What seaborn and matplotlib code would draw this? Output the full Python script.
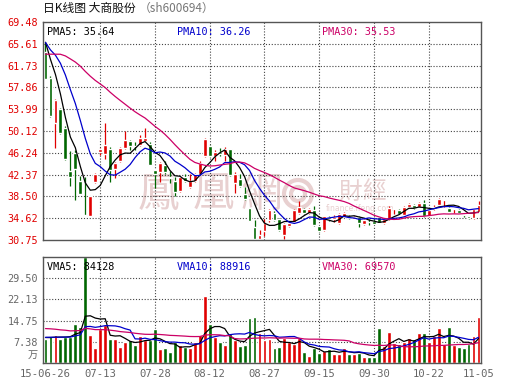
import numpy as np
import pandas as pd
import matplotlib
matplotlib.use("Agg")
import matplotlib.pyplot as plt
from matplotlib.patches import Ellipse
import seaborn as sns

# datos (precio en yuan, volumen en 万)
holidays = ["2015-09-03", "2015-09-04", "2015-10-01", "2015-10-02",
            "2015-10-05", "2015-10-06", "2015-10-07"]
tick_dates = ["2015-06-26", "2015-07-13", "2015-07-28", "2015-08-12", "2015-08-27",
              "2015-09-15", "2015-09-30", "2015-10-22", "2015-11-05"]

opens = [64.2, 59.6, 51.6, 54.0, 50.7, 43.0, 46.2, 41.3, 35.15, 35.1,
         41.0, 46.3, 45.95, 47.0, 43.3, 44.8, 47.1, 48.4, 47.5, 47.7,
         48.4, 47.8, 43.1, 42.8, 44.0, 42.0, 41.3, 39.4, 41.9, 40.1,
         41.2, 42.5, 45.6, 47.4, 45.7, 46.4, 45.9, 46.9, 40.8, 41.6,
         39.0, 36.4, 33.0, 31.0, 32.3, 34.3, 35.6, 34.5, 31.7, 33.3,
         34.0, 35.5, 36.2, 35.5, 36.1, 33.2, 32.5, 34.9, 34.4, 33.8,
         34.9, 35.0, 34.5, 34.9, 33.6, 34.0, 34.2, 34.8, 33.7, 34.4,
         36.2, 36.1, 35.2, 36.7, 37.0, 36.7, 37.3, 35.0, 36.2, 37.0,
         37.9, 36.5, 36.2, 36.1, 35.25, 35.0, 34.6, 35.8]
highs = [66.0, 59.8, 55.8, 54.2, 51.0, 46.6, 46.8, 42.1, 42.0, 38.6,
         42.6, 47.1, 51.6, 47.2, 44.6, 47.2, 50.2, 48.6, 48.1, 49.4,
         50.7, 48.2, 43.2, 44.6, 44.7, 43.0, 42.0, 42.1, 42.4, 42.5,
         42.6, 44.8, 48.8, 47.7, 46.8, 47.1, 47.3, 47.0, 42.9, 42.5,
         40.1, 36.5, 34.3, 32.6, 34.5, 36.2, 35.9, 34.7, 33.7, 34.2,
         36.2, 37.6, 36.4, 36.5, 36.8, 33.3, 35.1, 35.1, 35.2, 35.6,
         35.8, 35.2, 35.1, 35.0, 34.4, 34.4, 34.4, 34.9, 34.5, 36.8,
         36.2, 36.3, 36.8, 37.3, 37.2, 37.5, 37.8, 36.1, 36.9, 38.2,
         37.9, 36.6, 36.2, 36.2, 35.4, 35.1, 36.3, 37.6]
lows = [59.3, 52.6, 47.1, 49.6, 45.0, 40.4, 37.8, 38.9, 35.1, 35.1,
        40.9, 45.8, 45.1, 41.0, 41.8, 44.6, 46.9, 46.7, 46.7, 47.5,
        48.3, 44.0, 40.0, 41.0, 42.5, 40.9, 38.5, 39.3, 41.1, 40.0,
        41.1, 42.4, 45.5, 45.5, 44.8, 45.6, 44.8, 42.2, 39.1, 40.1,
        37.9, 34.2, 30.8, 30.75, 31.4, 34.0, 34.2, 32.4, 30.9, 33.0,
        33.9, 35.4, 35.3, 35.4, 33.2, 32.2, 32.4, 34.2, 34.0, 33.6,
        34.8, 34.4, 34.4, 33.1, 33.5, 33.5, 33.6, 33.8, 33.6, 34.3,
        35.4, 35.3, 35.1, 36.6, 36.3, 36.6, 34.9, 34.9, 36.0, 36.9,
        36.6, 35.7, 35.6, 35.5, 34.9, 34.5, 34.5, 35.7]
closes = [59.4, 52.8, 55.6, 49.7, 45.1, 42.0, 43.3, 39.0, 35.1, 38.6,
          42.5, 47.0, 47.6, 43.2, 44.5, 47.1, 48.6, 47.4, 47.4, 48.9,
          48.9, 44.1, 42.4, 44.5, 42.9, 41.7, 39.3, 42.0, 41.3, 41.2,
          42.4, 44.4, 48.7, 45.7, 46.3, 46.0, 47.0, 42.3, 42.5, 40.3,
          38.0, 34.2, 31.0, 31.7, 33.8, 36.0, 34.3, 32.5, 33.6, 33.8,
          36.0, 36.6, 35.5, 36.2, 33.4, 32.3, 35.0, 34.4, 34.9, 35.3,
          35.6, 34.6, 34.9, 33.8, 34.3, 33.9, 33.6, 33.8, 34.4, 36.4,
          36.2, 35.4, 36.7, 37.2, 36.4, 37.3, 35.0, 36.0, 36.7, 38.1,
          37.9, 35.8, 36.2, 35.6, 35.2, 34.6, 36.2, 37.0]
volumes = [8.3, 9.4, 9.8, 8.5, 9.1, 9.1, 13.7, 12.6, 36.88, 9.9,
           5.1, 12.0, 13.1, 8.2, 8.5, 5.6, 7.4, 8.0, 6.2, 9.4,
           8.0, 8.0, 12.0, 4.7, 5.1, 3.9, 7.4, 6.2, 5.6, 5.1,
           7.4, 9.9, 23.3, 13.7, 9.1, 7.4, 6.4, 10.5, 8.0, 5.9,
           6.4, 15.8, 16.0, 10.3, 7.9, 8.5, 5.3, 5.6, 8.8, 7.4,
           6.6, 8.8, 3.9, 2.5, 5.1, 3.6, 4.1, 4.7, 3.0, 3.3,
           5.3, 3.3, 3.0, 3.6, 2.0, 2.0, 2.2, 12.2, 5.9, 10.8,
           6.8, 6.6, 7.4, 8.8, 8.5, 10.5, 10.5, 7.4, 9.3, 12.2,
           6.6, 12.6, 6.2, 5.6, 5.1, 6.6, 9.3, 16.0]

# 29 dias anteriores, solo para arrancar las medias moviles
prior_closes = [53.0, 55.6, 50.0, 54.0, 58.0, 60.0, 61.0, 63.0, 64.0, 65.0,
                66.0, 67.0, 68.0, 67.0, 68.0, 69.0, 68.0, 67.0, 66.0, 65.0,
                66.0, 65.0, 64.0, 66.0, 68.0, 68.0, 69.0, 67.0, 66.0]
prior_volumes = [12, 14, 15, 13, 16, 12, 11, 14, 15, 13,
                 12, 14, 13, 15, 14, 12, 13, 14, 15, 13,
                 9, 10, 8, 9, 9, 9.5, 9, 8.5, 9.0]

price_ticks = [30.75, 34.62, 38.50, 42.37, 46.24, 50.12, 53.99, 57.86, 61.73, 65.61, 69.48]
vol_ticks = [7.38, 14.75, 22.13, 29.50]
vol_max = 36.88

sns.set_style("white")
plt.rcParams['font.family'] = ['DejaVu Sans Mono', 'Noto Sans CJK SC']

RED = '#e00000'
GREEN = '#006600'
BLUE = '#0000cc'
PINK = '#cc0066'
GRID = '#444444'
WM = '#e8d0d0'
dots = (0, (1, 1.6))

days = pd.bdate_range('2015-06-26', '2015-11-05')
days = days[~days.isin(pd.to_datetime(holidays))]
x = np.arange(len(days))
n = len(closes)

o = np.array(opens)
c = np.array(closes)
colors = [RED if cc >= oo else GREEN for oo, cc in zip(o, c)]

def ma(prior, vals, w):
    s = pd.Series(list(prior) + list(vals)).rolling(w).mean()
    return s.iloc[-n:].to_numpy()

pma = {w: ma(prior_closes, closes, w) for w in (5, 10, 30)}
vma = {w: ma(prior_volumes, volumes, w) for w in (5, 10, 30)}
line_colors = {5: 'black', 10: BLUE, 30: PINK}

W, H = 530, 391
fig = plt.figure(figsize=(W / 100, H / 100), dpi=100)
ax = fig.add_axes([43 / W, 1 - 240 / H, 438 / W, 218 / H])
axv = fig.add_axes([43 / W, 1 - 363 / H, 438 / W, 106 / H])

tick_idx = [days.get_loc(pd.Timestamp(d)) for d in tick_dates]
tick_lab = [pd.Timestamp(d).strftime('%m-%d') for d in tick_dates]
tick_lab[0] = pd.Timestamp(tick_dates[0]).strftime('%y-%m-%d')

for a in (ax, axv):
    a.set_xlim(-0.5, n - 0.5)
    for s in a.spines.values():
        s.set_color('#555555')
        s.set_linewidth(1.0)
        s.set_zorder(5)
    for i in tick_idx[1:-1]:
        a.axvline(i, color=GRID, lw=0.8, ls=dots, zorder=0.5)
    a.tick_params(length=0, labelsize=7.3)

# marca de agua
def px(xp, yp):
    return xp / W, 1 - yp / H

for ch, xp in zip("鳳凰網", (158, 213, 261)):
    ax.text(*px(xp, 195), ch, transform=fig.transFigure, fontsize=30, color=WM,
            ha='center', va='center', family=['Noto Sans CJK TC'], zorder=0)
for ch, xp in zip("財經", (350, 374)):
    ax.text(*px(xp, 192), ch, transform=fig.transFigure, fontsize=17, color=WM,
            ha='center', va='center', family=['Noto Sans CJK TC'], zorder=0)
for d in (28, 14):
    ax.add_artist(Ellipse(px(298, 194), d / W, d / H, transform=fig.transFigure,
                          fill=False, ec=WM, lw=3, zorder=0))
ax.text(*px(360, 208), "finance.ifeng.com", transform=fig.transFigure, fontsize=5.5,
        color=WM, ha='center', va='center', family=['DejaVu Sans'], zorder=0)

# velas
for v in price_ticks[1:-1]:
    ax.axhline(v, color=GRID, lw=0.8, ls=dots, zorder=0.5)
ax.vlines(x, lows, highs, colors=colors, lw=0.9, zorder=2)
ax.bar(x, np.maximum(np.abs(c - o), 0.12), bottom=np.minimum(o, c), width=0.78,
       color=colors, zorder=3)
for w in (5, 10, 30):
    sns.lineplot(x=x, y=pma[w], color=line_colors[w], lw=0.9, ax=ax, zorder=4)
ax.set_ylim(price_ticks[0], price_ticks[-1])
ax.set_yticks(price_ticks)
ax.set_yticklabels([f"{t:.2f}" for t in price_ticks], color=RED)
ax.set_xticks(tick_idx)
ax.set_xticklabels([])

# volumen
for v in vol_ticks:
    axv.axhline(v, color=GRID, lw=0.8, ls=dots, zorder=0.5)
axv.bar(x, volumes, width=0.78, color=colors, zorder=2)
for w in (5, 10, 30):
    sns.lineplot(x=x, y=vma[w], color=line_colors[w], lw=0.9, ax=axv, zorder=4)
axv.set_ylim(0, vol_max)
axv.set_yticks([3.3] + vol_ticks)
axv.set_yticklabels(['万'] + [f"{t:.2f}" for t in vol_ticks], color='#666666')
axv.set_xticks(tick_idx)
axv.set_xticklabels(tick_lab, color='#666666', fontsize=7.6)
axv.tick_params(axis='x', pad=4)
ax.set_xlabel('')
axv.set_xlabel('')

# textos
fig.text(*px(43, 8), "日K线图 大商股份", fontsize=8.5, color='#111111',
         va='center', family=['Noto Sans CJK SC'])
fig.text(*px(139, 8), "（sh600694）", fontsize=8.5, color='#777777',
         va='center', family=['Noto Sans CJK SC'])
legend_rows = [(32, ["PMA5: 35.64", "PMA10: 36.26", "PMA30: 35.53"]),
               (267, ["VMA5: 84128", "VMA10: 88916", "VMA30: 69570"])]
for yp, labels in legend_rows:
    for xp, lab, col in zip((47, 177, 322), labels, ('black', BLUE, PINK)):
        fig.text(*px(xp, yp), lab, fontsize=7.3, color=col, va='center')

fig.savefig("out.png", dpi=100)
